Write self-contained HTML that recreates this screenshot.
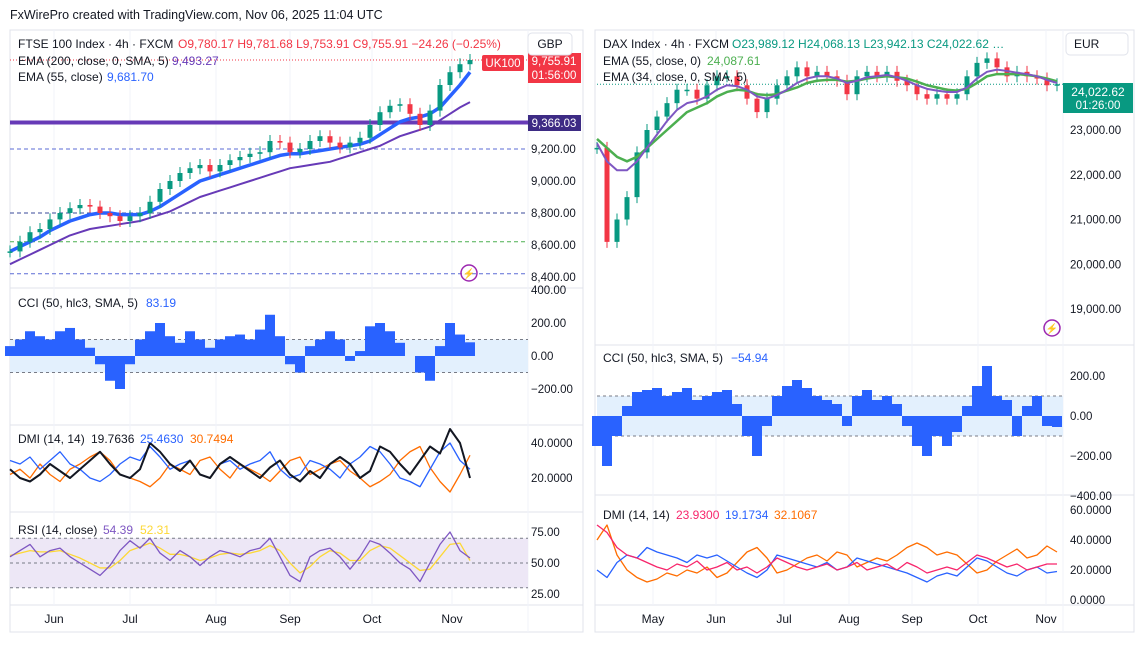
<!DOCTYPE html>
<html><head><meta charset="utf-8"><style>
body{margin:0;background:#fff;font-family:"Liberation Sans",sans-serif}
svg text{font-family:"Liberation Sans",sans-serif}
</style></head><body>
<svg id="c" width="1137" height="647" viewBox="0 0 1137 647" xmlns="http://www.w3.org/2000/svg">
<rect width="1137" height="647" fill="#fff"/>
<text x="10" y="19" font-size="12.5" fill="#131722">FxWirePro created with TradingView.com, Nov 06, 2025 11:04 UTC</text>
<rect x="10" y="30" width="573" height="602" fill="none" stroke="#e0e3eb"/>
<rect x="595" y="30" width="539" height="602" fill="none" stroke="#e0e3eb"/>
<g id="g"></g>
</svg>
<script>
// ---------- LEFT (FTSE) data ----------
const ftseMonths=["Jun","Jul","Aug","Sep","Oct","Nov"];
const ftseMonthX=[54,130,216,290,372,452];
const ftseClose=[8560,8620,8680,8700,8760,8800,8830,8850,8840,8800,8780,8750,8780,8800,8870,8950,9000,9050,9080,9100,9060,9100,9130,9150,9170,9180,9250,9240,9180,9200,9250,9280,9240,9210,9240,9270,9350,9430,9470,9480,9420,9350,9440,9600,9680,9730,9756];
const ftseEma55=[8560,8590,8620,8650,8690,8720,8750,8770,8790,8800,8800,8790,8790,8790,8810,8840,8880,8920,8960,9000,9020,9040,9060,9080,9100,9120,9140,9160,9170,9170,9180,9190,9200,9210,9220,9230,9250,9290,9330,9370,9390,9400,9420,9460,9530,9600,9680];
const ftseEma200=[8480,8510,8540,8570,8600,8630,8660,8680,8700,8710,8720,8730,8740,8750,8770,8790,8810,8840,8870,8900,8920,8940,8960,8980,9000,9020,9040,9060,9080,9090,9100,9110,9120,9140,9160,9180,9200,9220,9250,9280,9300,9320,9340,9380,9420,9460,9493];
const ftsePriceTicks=[9200,9000,8800,8600,8400];
const ftseCci=[60,100,150,120,100,150,170,100,50,-50,-150,-200,-50,100,150,200,120,80,150,100,50,100,120,130,100,160,250,120,-50,-100,60,100,150,100,-30,30,180,200,150,80,0,-100,-150,60,200,130,83];
const ftseCciTicks=[400,200,0,-200];
const ftseAdx=[25,20,18,22,28,24,20,25,30,35,28,22,20,25,40,35,28,24,30,22,20,28,32,28,24,20,26,30,22,18,24,20,28,32,28,20,24,38,35,28,22,30,38,34,48,40,20];
const ftseDiPlus=[30,28,32,25,30,35,28,25,20,18,22,28,32,30,38,32,25,28,30,22,20,28,30,25,28,30,35,25,20,22,30,28,25,20,28,32,38,35,28,20,18,15,25,35,40,30,25];
const ftseDiMinus=[22,25,20,28,22,18,25,28,32,35,30,22,20,18,15,20,28,25,22,30,32,25,20,28,25,22,18,24,30,32,22,25,28,30,24,20,15,18,22,30,35,38,26,18,12,22,33];
const ftseRsi=[55,60,65,55,60,62,55,50,45,40,48,60,68,62,70,58,52,60,55,48,55,60,58,55,60,62,70,55,40,35,55,60,62,55,45,55,68,65,58,50,45,35,50,65,75,60,54];
const ftseRsiMa=[56,58,60,59,59,60,57,54,50,46,46,52,60,63,66,62,57,57,55,52,54,57,58,57,58,60,64,60,50,42,47,55,60,58,52,52,60,64,62,56,50,44,45,55,65,66,52];
// ---------- RIGHT (DAX) data ----------
const daxMonths=["May","Jun","Jul","Aug","Sep","Oct","Nov"];
const daxMonthX=[653,716,784,849,912,978,1046];
const daxClose=[22600,20500,21000,21500,22500,23000,23300,23600,23900,23900,23700,24000,24200,24200,24000,23700,23400,23700,24000,24200,24400,24200,24300,24200,24100,23800,24200,24300,24200,24300,24100,24000,23800,23700,23800,23700,23800,24200,24500,24600,24400,24200,24300,24200,24150,24000,24022];
const daxEma55=[22800,22600,22400,22300,22400,22600,22800,23000,23200,23400,23500,23600,23750,23850,23900,23880,23800,23780,23800,23880,23950,24050,24100,24120,24120,24080,24100,24150,24180,24200,24180,24150,24080,24000,23950,23900,23880,23920,24050,24200,24250,24250,24250,24230,24200,24150,24087];
const daxEma34=[22700,22300,22100,22100,22300,22600,22900,23200,23450,23600,23650,23750,23900,24000,23980,23900,23750,23700,23780,23900,24050,24150,24200,24200,24150,24050,24100,24180,24200,24230,24180,24100,24000,23920,23880,23850,23850,23950,24150,24300,24350,24320,24280,24250,24200,24120,24050];
const daxPriceTicks=[23000,22000,21000,20000,19000];
const daxCci=[-150,-250,-100,50,120,130,140,100,120,140,80,100,120,130,60,-100,-200,-50,100,150,180,140,100,80,60,-50,100,130,80,100,60,-50,-150,-200,-100,-150,-80,50,150,250,100,80,-100,50,100,-50,-55];
const daxCciTicks=[200,0,-200,-400];
const daxDmiRed=[50,45,35,30,28,25,22,20,24,22,26,20,22,25,20,22,18,22,28,25,22,20,22,24,20,22,25,20,22,24,20,25,22,18,20,22,20,25,30,28,25,22,24,20,22,24,24];
const daxDmiBlue=[20,15,25,30,28,35,32,30,28,25,30,28,30,26,22,18,15,20,30,28,26,24,22,25,20,22,28,26,24,22,20,18,15,12,16,18,16,22,28,26,22,18,16,20,22,18,19];
const daxDmiOrange=[40,50,30,20,15,12,14,18,16,20,18,22,15,18,25,32,35,28,18,20,24,28,30,26,32,30,22,25,28,26,30,35,38,35,30,32,30,24,18,20,26,30,34,28,30,36,32];
const dmiTicks=[60,40,20,0];
const rsiTicks=[75,50,25];

const g=document.getElementById('g');
const NS='http://www.w3.org/2000/svg';
function el(tag,attrs,parent){const e=document.createElementNS(NS,tag);for(const k in attrs)e.setAttribute(k,attrs[k]);(parent||g).appendChild(e);return e;}
function txt(x,y,s,size,fill,anchor){const t=el('text',{x:x,y:y,'font-size':size,fill:fill,'text-anchor':anchor||'start'});t.textContent=s;return t;}
function lin(d0,d1,r0,r1){return v=>r0+(v-d0)*(r1-r0)/(d1-d0);}

const lx=i=>10+i*10, rx=i=>597+i*10;
const ly=lin(9200,8400,149,277), lcci=lin(0,200,356,323), ldmi=lin(20,40,478,443), lrsi=lin(50,75,563,532);
const ry=lin(23000,19000,130,309), rcci=lin(0,200,416,376), rdmi=lin(0,20,600,570);

function polyline(arr,xf,yf,color,w,name){
  const p=el('polyline',{points:arr.map((v,i)=>xf(i)+','+yf(v)).join(' '),fill:'none',stroke:color,'stroke-width':w,'stroke-linejoin':'round'});
  
  
}
function candles(arr,xf,yf,name){
  arr.forEach((c,i)=>{
    const o=i?arr[i-1]:c;const up=c>=o;const col=up?'#089981':'#f23645';
    const y1=yf(Math.max(o,c)),y2=yf(Math.min(o,c));
    const w=el('line',{x1:xf(i),x2:xf(i),y1:y1-6,y2:y2+6,stroke:col,'stroke-width':1});
    
    
    const b=el('rect',{x:xf(i)-2.5,y:y1,width:5,height:Math.max(1.5,y2-y1),fill:col});
    
    
  });
}
function hist(arr,xf,yf,name){
  arr.forEach((v,i)=>{
    const y0=yf(0),y=yf(v);
    const r=el('rect',{x:xf(i)-5,y:Math.min(y0,y),width:10,height:Math.abs(y-y0),fill:'#2962ff'});
    
    
  });
}
function ticks(arr,yf,x,fmt){
  arr.forEach(v=>{const t=txt(x,yf(v)+4,fmt(v),11.5,'#131722');
    
    });
}
const f2=v=>(v<0?'\u2212':'')+Math.abs(v).toLocaleString('en-US',{minimumFractionDigits:2,maximumFractionDigits:2});
const f4=v=>v.toFixed(4);

// ---- LEFT panel
[288,425,512,605].forEach(y=>el('line',{x1:10,x2:583,y1:y,y2:y,stroke:'#e0e3eb'}));
el('line',{x1:528,x2:528,y1:30,y2:632,stroke:'#f0f3fa'});
ftseMonthX.forEach(x=>el('line',{x1:x,x2:x,y1:30,y2:605,stroke:'#f0f3fa'}));
el('line',{x1:10,x2:528,y1:ly(9200),y2:ly(9200),stroke:'#5b6bd6','stroke-dasharray':'4,3'});
el('line',{x1:10,x2:528,y1:ly(8800),y2:ly(8800),stroke:'#3a4a9a','stroke-dasharray':'4,3'});
el('line',{x1:10,x2:528,y1:ly(8620),y2:ly(8620),stroke:'#4caf50','stroke-dasharray':'4,3'});
el('line',{x1:10,x2:528,y1:ly(8420),y2:ly(8420),stroke:'#5b6bd6','stroke-dasharray':'4,3'});
el('line',{x1:10,x2:528,y1:ly(9366),y2:ly(9366),stroke:'#673ab7','stroke-width':4});
el('line',{x1:10,x2:528,y1:ly(9756),y2:ly(9756),stroke:'#f23645','stroke-dasharray':'1,2'});
polyline(ftseEma200,lx,ly,'#673ab7',2,'ftse-ema200-line');
polyline(ftseEma55,lx,ly,'#2962ff',3.5,'ftse-ema55-line');
candles(ftseClose,lx,ly,'ftse');
ticks(ftsePriceTicks,ly,531,f2);
el('rect',{x:482,y:55,width:42,height:16,fill:'#f23645',rx:2});txt(503,67,'UK100',11.5,'#fff','middle');
el('rect',{x:528,y:53,width:53,height:30,fill:'#f23645'});txt(554,65,'9,755.91',11.5,'#fff','middle');txt(554,79,'01:56:00',11.5,'#fff','middle');
el('rect',{x:528,y:115,width:53,height:16,fill:'#3d2b84'});txt(554,127,'9,366.03',11.5,'#fff','middle');
el('rect',{x:528,y:33,width:44,height:22,fill:'#fff',stroke:'#e0e3eb',rx:4});txt(550,48,'GBP',12,'#131722','middle');
el('circle',{cx:469,cy:273,r:8,fill:'none',stroke:'#9c27b0','stroke-width':1.5});txt(469,277,'⚡',10,'#9c27b0','middle');
txt(18,48,'FTSE 100 Index · 4h · FXCM',12,'#131722');
txt(178,48,'O9,780.17  H9,781.68  L9,753.91  C9,755.91  −24.26 (−0.25%)',12,'#f23645');
txt(18,65,'EMA (200, close, 0, SMA, 5)',12,'#131722');txt(172,65,'9,493.27',12,'#673ab7');
txt(18,81,'EMA (55, close)',12,'#131722');txt(107,81,'9,681.70',12,'#2962ff');
// CCI
el('rect',{x:10,y:lcci(100),width:518,height:lcci(-100)-lcci(100),fill:'#e3f0fd'});
el('line',{x1:10,x2:528,y1:lcci(100),y2:lcci(100),stroke:'#787b86','stroke-dasharray':'3,3'});
el('line',{x1:10,x2:528,y1:lcci(-100),y2:lcci(-100),stroke:'#787b86','stroke-dasharray':'3,3'});
hist(ftseCci,lx,lcci,'ftse-cci-bar');
ticks(ftseCciTicks,lcci,531,f2);
txt(18,307,'CCI (50, hlc3, SMA, 5)',12,'#131722');txt(146,307,'83.19',12,'#2962ff');
// DMI
polyline(ftseDiMinus,lx,ldmi,'#ff6d00',1.3,'ftse-di-minus-line');
polyline(ftseDiPlus,lx,ldmi,'#2962ff',1.3,'ftse-di-plus-line');
polyline(ftseAdx,lx,ldmi,'#131722',2,'ftse-adx-line');
ticks([40,20],ldmi,531,f4);
txt(18,443,'DMI (14, 14)',12,'#131722');txt(91,443,'19.7636',12,'#131722');txt(140,443,'25.4630',12,'#2962ff');txt(190,443,'30.7494',12,'#ff6d00');
// RSI
el('rect',{x:10,y:lrsi(70),width:518,height:lrsi(30)-lrsi(70),fill:'#ede7f6'});
[70,50,30].forEach(v=>el('line',{x1:10,x2:528,y1:lrsi(v),y2:lrsi(v),stroke:'#787b86','stroke-dasharray':'3,3'}));
polyline(ftseRsiMa,lx,lrsi,'#fdd835',1.3,'ftse-rsi-ma-line');
polyline(ftseRsi,lx,lrsi,'#7e57c2',1.3,'ftse-rsi-line');
ticks(rsiTicks,lrsi,531,v=>v.toFixed(2));
txt(18,534,'RSI (14, close)',12,'#131722');txt(103,534,'54.39',12,'#7e57c2');txt(140,534,'52.31',12,'#fdd835');
ftseMonths.forEach((m,i)=>{const a=txt(ftseMonthX[i],623,m,12,'#131722','middle');});

// ---- RIGHT panel
[345,495,605].forEach(y=>el('line',{x1:595,x2:1134,y1:y,y2:y,stroke:'#e0e3eb'}));
el('line',{x1:1063,x2:1063,y1:30,y2:632,stroke:'#f0f3fa'});
daxMonthX.forEach(x=>el('line',{x1:x,x2:x,y1:30,y2:605,stroke:'#f0f3fa'}));
el('line',{x1:597,x2:1063,y1:ry(24022),y2:ry(24022),stroke:'#089981','stroke-dasharray':'1,2'});
candles(daxClose,rx,ry,'dax');
polyline(daxEma55,rx,ry,'#4caf50',2.5,'dax-ema55-line');
polyline(daxEma34,rx,ry,'#7e57c2',2,'dax-ema34-line');
ticks(daxPriceTicks,ry,1070,f2);
el('rect',{x:1063,y:83,width:70,height:30,fill:'#089981'});txt(1098,96,'24,022.62',12,'#fff','middle');txt(1098,109,'01:26:00',11.5,'#fff','middle');
el('rect',{x:1066,y:33,width:62,height:22,fill:'#fff',stroke:'#e0e3eb',rx:4});txt(1074,48,'EUR',12,'#131722');
el('circle',{cx:1052,cy:328,r:8,fill:'none',stroke:'#9c27b0','stroke-width':1.5});txt(1052,332,'⚡',10,'#9c27b0','middle');
txt(603,48,'DAX Index · 4h · FXCM',12,'#131722');txt(732,48,'O23,989.12  H24,068.13  L23,942.13  C24,022.62 …',12,'#089981');
txt(603,65,'EMA (55, close, 0)',12,'#131722');txt(707,65,'24,087.61',12,'#4caf50');
txt(603,81,'EMA (34, close, 0, SMA, 5)',12,'#131722');
el('rect',{x:597,y:rcci(100),width:466,height:rcci(-100)-rcci(100),fill:'#e3f0fd'});
el('line',{x1:597,x2:1063,y1:rcci(100),y2:rcci(100),stroke:'#787b86','stroke-dasharray':'3,3'});
el('line',{x1:597,x2:1063,y1:rcci(-100),y2:rcci(-100),stroke:'#787b86','stroke-dasharray':'3,3'});
hist(daxCci,rx,rcci,'dax-cci-bar');
ticks(daxCciTicks,rcci,1070,f2);
txt(603,362,'CCI (50, hlc3, SMA, 5)',12,'#131722');txt(731,362,'−54.94',12,'#2962ff');
polyline(daxDmiOrange,rx,rdmi,'#ff6d00',1.3,'dax-dmi-orange-line');
polyline(daxDmiBlue,rx,rdmi,'#2962ff',1.3,'dax-dmi-blue-line');
polyline(daxDmiRed,rx,rdmi,'#f7256b',1.3,'dax-dmi-red-line');
ticks(dmiTicks,rdmi,1070,f4);
txt(603,519,'DMI (14, 14)',12,'#131722');txt(676,519,'23.9300',12,'#f7256b');txt(725,519,'19.1734',12,'#2962ff');txt(774,519,'32.1067',12,'#ff6d00');
daxMonths.forEach((m,i)=>{const a=txt(daxMonthX[i],623,m,12,'#131722','middle');});
</script>
</body></html>
